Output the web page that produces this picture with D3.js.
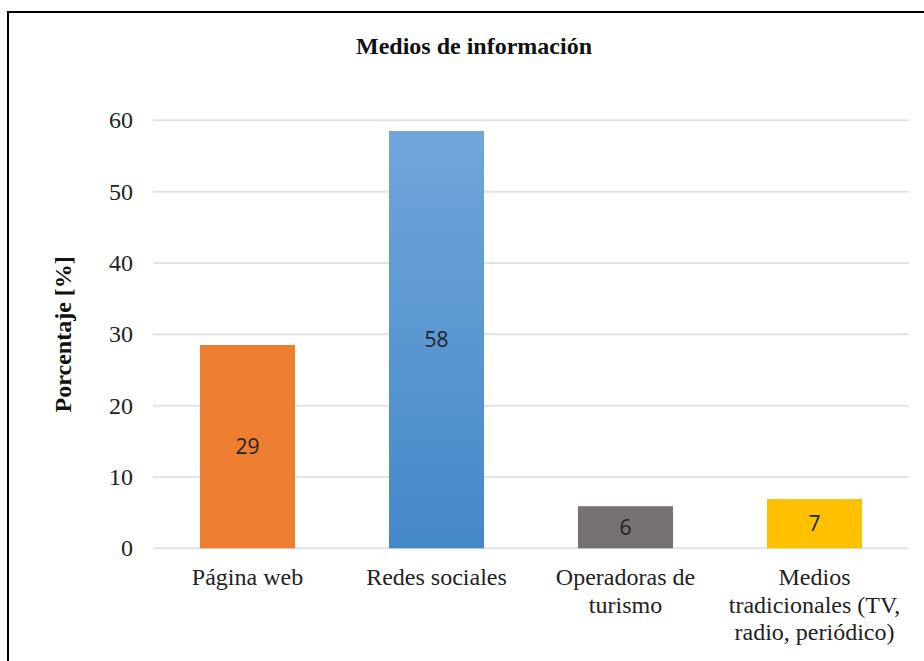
<!DOCTYPE html>
<html><head><meta charset="utf-8">
<script src="https://cdn.jsdelivr.net/npm/d3@7"></script>
<style>body{margin:0;background:#fff}svg{display:block}
.serif{font-family:"Liberation Serif","Times New Roman",Times,serif}
.sans{font-family:"Open Sans","Liberation Sans",sans-serif}</style>
</head><body>
<svg id="c" width="924" height="661"></svg>
<script>
const categories = [["Página web"], ["Redes sociales"], ["Operadoras de", "turismo"], ["Medios", "tradicionales (TV,", "radio, periódico)"]];
const values = [28.5, 58.5, 5.9, 6.9];
const valueLabels = ["29", "58", "6", "7"];
const yTicks = [0, 10, 20, 30, 40, 50, 60];
const colors = ["#ED7D31", "url(#blueGrad)", "#767171", "#FFC000"];
const title = "Medios de información";
const yTitle = "Porcentaje [%]";

(function(){
const svg = d3.select("#c");
const defs = svg.append("defs");
const g1 = defs.append("linearGradient").attr("id","blueGrad").attr("x1",0).attr("y1",0).attr("x2",0).attr("y2",1);
g1.append("stop").attr("offset","0%").attr("stop-color","#70A6DB");
g1.append("stop").attr("offset","100%").attr("stop-color","#4488C8");

// frame
svg.append("rect").attr("x",8).attr("y",12).attr("width",940).attr("height",700)
  .attr("fill","none").attr("stroke","#000").attr("stroke-width",2);

const pL = 153, pR = 909, pT = 120.3, pB = 548.3;
const x = d3.scaleBand().domain(d3.range(categories.length)).range([pL, pR]).paddingInner(0.497).paddingOuter(0.2485);
const y = d3.scaleLinear().domain([0, 60]).range([pB, pT]);

// grid
svg.append("g").selectAll("line").data(yTicks).join("line")
  .attr("x1", pL).attr("x2", pR).attr("y1", d => y(d)).attr("y2", d => y(d))
  .attr("stroke", "#dfe4eb").attr("stroke-width", 2);

// y axis ticks via d3 axis
const ya = svg.append("g").attr("transform", `translate(${pL},0)`)
  .call(d3.axisLeft(y).tickValues(yTicks).tickSize(0).tickPadding(20));
ya.select(".domain").remove();
ya.attr("font-family", null).attr("font-size", null);
ya.selectAll("text").attr("class","serif").style("font-size","24px").attr("fill","#222");

// bars
svg.append("g").selectAll("rect").data(values).join("rect")
  .attr("x", (d,i) => x(i)).attr("width", x.bandwidth())
  .attr("y", d => y(d)).attr("height", d => y(0) - y(d))
  .attr("fill", (d,i) => colors[i]);

// value labels
svg.append("g").selectAll("text").data(values).join("text")
  .attr("class","sans")
  .attr("x", (d,i) => x(i) + x.bandwidth()/2)
  .attr("y", d => (y(d) + y(0))/2)
  .attr("dy", "0.36em")
  .attr("text-anchor","middle")
  .style("font-size","21px")
  .attr("fill","#222")
  .text((d,i) => valueLabels[i]);

// category labels
const cg = svg.append("g");
categories.forEach((lines, i) => {
  const t = cg.append("text").attr("class","serif").attr("text-anchor","middle")
    .style("font-size","24px").attr("fill","#222");
  lines.forEach((ln, j) => {
    t.append("tspan").attr("x", x(i) + x.bandwidth()/2).attr("y", 585 + j*27.5).text(ln);
  });
});

// title
svg.append("text").attr("class","serif").attr("x", 474).attr("y", 54).attr("text-anchor","middle")
  .style("font-weight","bold").style("font-size","24px").attr("fill","#111").text(title);

// y title
svg.append("text").attr("class","serif").attr("transform", `translate(71,${(pT+pB)/2}) rotate(-90)`)
  .attr("text-anchor","middle")
  .style("font-weight","bold").style("font-size","24px").attr("fill","#111").text(yTitle);
})();
</script>
</body></html>
